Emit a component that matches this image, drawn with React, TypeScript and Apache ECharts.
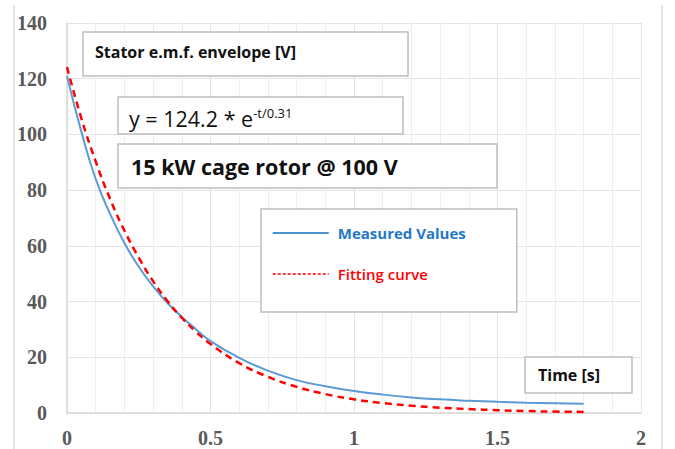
import React, { useEffect, useRef } from "react";
import * as echarts from "echarts";

const timeValues = [0, 0.05, 0.1, 0.15, 0.2, 0.25, 0.3, 0.35, 0.4, 0.45, 0.5, 0.6, 0.7, 0.8, 0.9, 1.0, 1.1, 1.2, 1.3, 1.4, 1.5, 1.6, 1.7, 1.8];
const measuredValues = [121, 101, 84, 71.5, 61, 52.5, 45.5, 39.5, 34.5, 30, 25.8, 19.8, 15.2, 11.8, 9.6, 7.9, 6.6, 5.6, 4.9, 4.4, 4.0, 3.7, 3.5, 3.3];
const fittedValues = [124.2, 105.8, 90.3, 76.9, 65.5, 55.8, 47.3, 40.2, 34.2, 29.1, 24.8, 17.9, 13.0, 9.4, 6.8, 4.9, 3.6, 2.6, 1.9, 1.4, 1.0, 0.7, 0.5, 0.4];
const xTicks = [0, 0.5, 1, 1.5, 2];
const yTicks = [0, 20, 40, 60, 80, 100, 120, 140];

const seriesNames = ["Measured Values", "Fitting curve"];
const boxTitle = "Stator e.m.f. envelope [V]";
const formulaMain = "y = 124.2 * e";
const formulaSup = "-t/0.31";
const subtitle = "15 kW cage rotor @ 100 V";
const xTitle = "Time [s]";

const SANS = "'Open Sans', Lato, sans-serif";
const SERIF = "'Liberation Serif', 'DejaVu Serif', serif";

function box(x: number, y: number, w: number, h: number) {
  return {
    type: "rect",
    z: 10,
    shape: { x, y, width: w, height: h },
    style: { fill: "#ffffff", stroke: "#bfbfbf", lineWidth: 1.5 },
  };
}

function label(x: number, y: number, text: string, size: number, weight: any, color = "#000000") {
  return {
    type: "text",
    z: 11,
    x,
    y,
    style: {
      text,
      fill: color,
      fontFamily: SANS,
      fontSize: size,
      fontWeight: weight,
      verticalAlign: "middle",
      align: "left",
    },
  };
}

export default function App() {
  const ref = useRef<HTMLDivElement>(null);

  useEffect(() => {
    if (!ref.current) return;
    const chart = echarts.init(ref.current, undefined, { renderer: "svg" });
    const measured = timeValues.map((t, i) => [t, measuredValues[i]]);
    const fitted = timeValues.map((t, i) => [t, fittedValues[i]]);

    chart.setOption({
      animation: false,
      backgroundColor: "#ffffff",
      grid: { left: 67, right: 34, top: 23, bottom: 36, containLabel: false },
      xAxis: {
        type: "value",
        min: xTicks[0],
        max: xTicks[xTicks.length - 1],
        interval: 0.5,
        axisLine: { show: true, lineStyle: { color: "#d9d9d9", width: 1.5 } },
        axisTick: { show: false },
        axisLabel: {
          margin: 15,
          color: "#595959",
          fontFamily: SERIF,
          fontWeight: "bold",
          fontSize: 20,
          formatter: (v: number) => String(v),
        },
        splitLine: { show: true, lineStyle: { color: "#e3e3e3", width: 1 } },
        minorTick: { show: false, splitNumber: 5 },
        minorSplitLine: { show: true, lineStyle: { color: "#eeeeee", width: 1 } },
      },
      yAxis: {
        type: "value",
        min: yTicks[0],
        max: yTicks[yTicks.length - 1],
        interval: 20,
        axisLine: { show: true, lineStyle: { color: "#d9d9d9", width: 1.5 } },
        axisTick: { show: false },
        axisLabel: {
          margin: 20,
          color: "#595959",
          fontFamily: SERIF,
          fontWeight: "bold",
          fontSize: 20,
        },
        splitLine: { show: true, lineStyle: { color: "#e3e3e3", width: 1 } },
      },
      legend: {
        left: 261,
        top: 209,
        orient: "vertical",
        padding: [16, 51, 30, 11],
        itemWidth: 56,
        itemHeight: 16,
        itemGap: 25,
        backgroundColor: "#ffffff",
        borderColor: "#bfbfbf",
        borderWidth: 1.5,
        z: 12,
        itemStyle: { opacity: 0 },
        textStyle: { fontFamily: SANS, fontSize: 15, lineHeight: 16, padding: [0, 0, 0, 4] },
        data: [
          {
            name: seriesNames[0],
            textStyle: { color: "#1f78c8", fontWeight: "bold" },
            itemStyle: { opacity: 0 },
            lineStyle: { color: "#0b6fc4", width: 1.5, type: "solid" },
          },
          {
            name: seriesNames[1],
            textStyle: { color: "#ff0000", fontWeight: 600 },
            itemStyle: { opacity: 0 },
            lineStyle: { color: "#ff0000", width: 1.5, type: [3, 2] },
          },
        ],
      },
      series: [
        {
          name: seriesNames[0],
          type: "line",
          data: measured,
          smooth: true,
          symbol: "none",
          lineStyle: { color: "#5b9bd5", width: 2 },
          itemStyle: { color: "#5b9bd5" },
          z: 3,
        },
        {
          name: seriesNames[1],
          type: "line",
          data: fitted,
          smooth: true,
          symbol: "none",
          lineStyle: { color: "#ff0000", width: 2.5, type: [7, 5] },
          itemStyle: { color: "#ff0000" },
          z: 4,
        },
      ],
      graphic: [
        { type: "line", z: 1, shape: { x1: 14, y1: 5, x2: 14, y2: 449 }, style: { stroke: "#d9d9d9", lineWidth: 1.5 } },
        { type: "line", z: 1, shape: { x1: 662, y1: 5, x2: 662, y2: 449 }, style: { stroke: "#d9d9d9", lineWidth: 1.5 } },
        box(83, 32, 325, 44),
        label(95, 52, boxTitle, 16, "bold", "#111111"),
        box(118, 97, 285, 37),
        {
          type: "text",
          z: 11,
          x: 129,
          y: 118,
          style: {
            text: `{a|${formulaMain}}{b|${formulaSup}}`,
            fill: "#111111",
            verticalAlign: "middle",
            align: "left",
            rich: {
              a: { fontFamily: SANS, fontSize: 21.5, lineHeight: 23, fill: "#111111", verticalAlign: "bottom" },
              b: { fontFamily: SANS, fontSize: 13, lineHeight: 14, fill: "#111111", verticalAlign: "top" },
            },
          },
        },
        box(118, 144, 379, 44),
        label(131, 166, subtitle, 21.5, "bold", "#111111"),
        box(525, 357, 107, 36),
        label(538, 374.5, xTitle, 16, "bold", "#111111"),
      ],
    });

    return () => chart.dispose();
  }, []);

  return (
    <div
      ref={ref}
      style={{ position: "fixed", left: 0, top: 0, width: 675, height: 449, background: "#ffffff" }}
    />
  );
}
